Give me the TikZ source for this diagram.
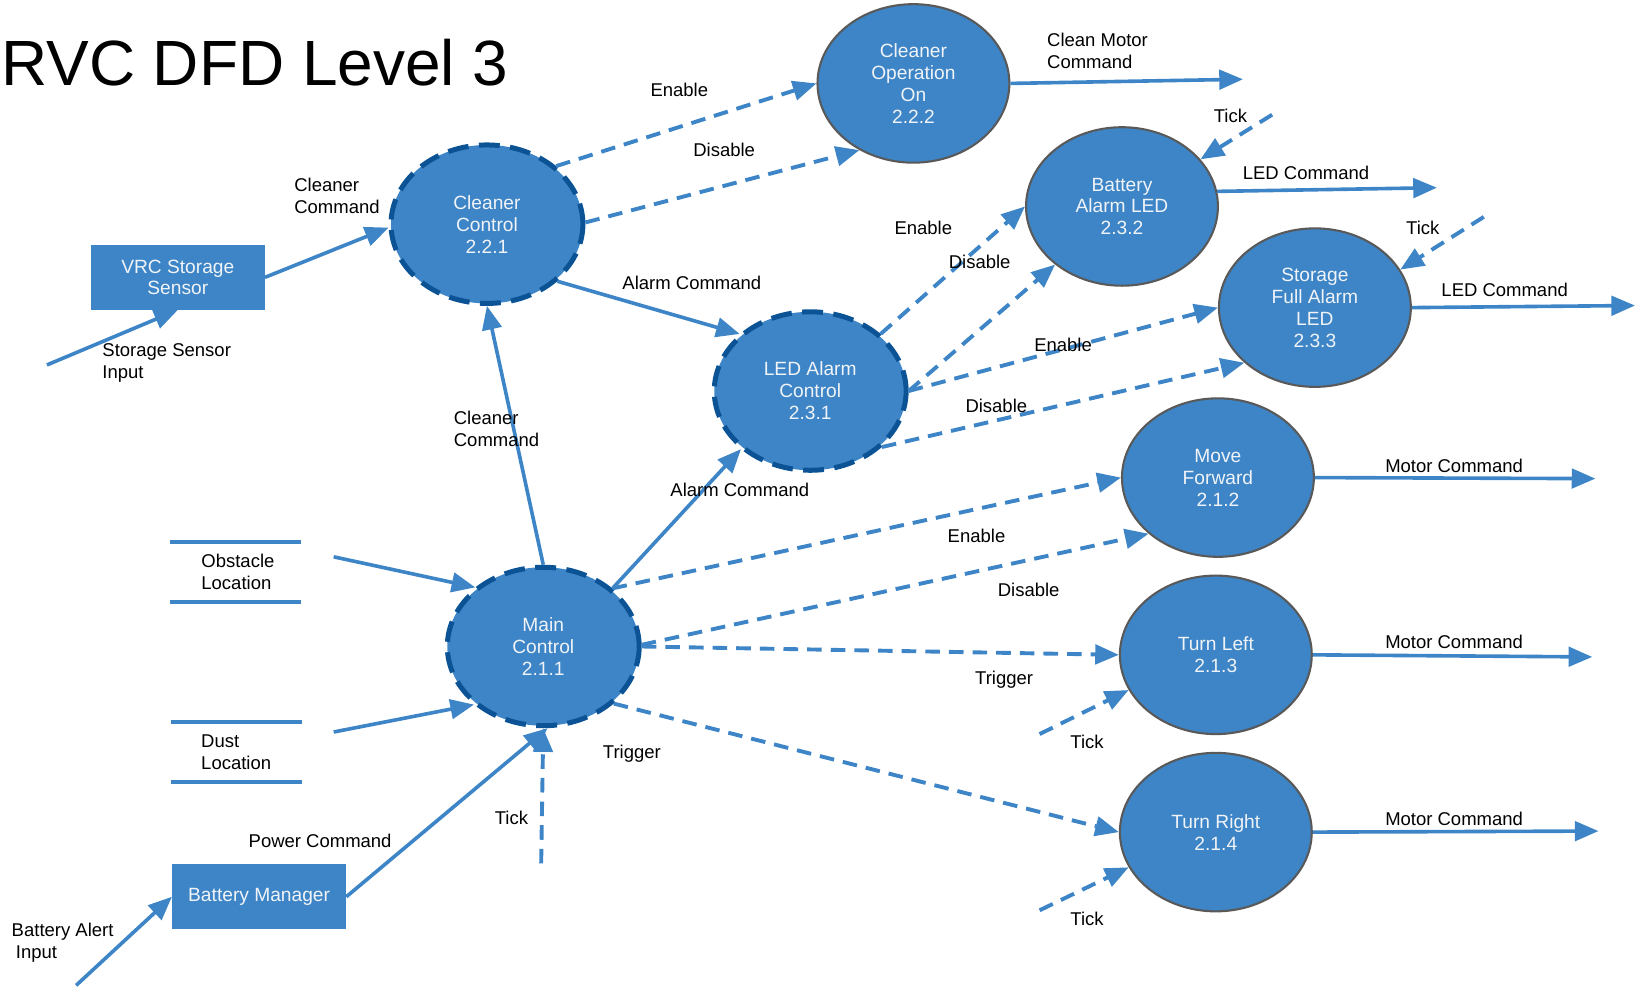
\documentclass[tikz,border=0pt]{standalone}
\usepackage{fontspec}
\setmainfont{Liberation Sans}
\usepackage{tikz}
\usetikzlibrary{positioning,shapes.geometric,arrows.meta}

\definecolor{dfdblue}{RGB}{61,133,198}
\definecolor{dfddark}{RGB}{11,83,148}
\definecolor{dfdgray}{RGB}{89,89,89}
\definecolor{dfdtext}{RGB}{240,243,247}
\newcommand\dfdfont{\fontsize{13.3}{15.75}\selectfont}
\newcommand\dfdnodefont{\fontsize{13.8}{15.75}\selectfont}

\begin{document}
\begin{tikzpicture}[x=0.75pt,y=0.75pt,yscale=-1,xscale=1,
  proc/.style={ellipse,fill=dfdblue,draw=dfdgray,line width=1.5pt,minimum width=138pt,minimum height=114pt,inner sep=0pt,text=dfdtext,align=center,font=\dfdnodefont},
  ctrlproc/.style={proc,draw=dfddark,line width=3.6pt,dash pattern=on 15pt off 7.5pt},
  ext/.style={rectangle,fill=dfdblue,minimum width=125pt,minimum height=46.5pt,inner sep=0pt,text=dfdtext,align=center,font=\dfdnodefont},
  store/.style={rectangle,minimum width=93.75pt,minimum height=42.75pt,inner sep=0pt,align=left,font=\dfdfont},
  storeline/.style={draw=dfdblue,line width=2.6pt},
  lbl/.style={inner sep=0pt,align=left,font=\dfdfont},
  dataflow/.style={draw=dfdblue,line width=2.6pt,-{Triangle[length=17pt,width=14pt]}},
  ctrlflow/.style={dataflow,line width=2.8pt,dash pattern=on 10.5pt off 6.5pt}
]
\useasboundingbox (0,0) rectangle (1568,948.5);

% Title
\draw (1,60) node (title) [anchor=west,inner sep=0pt,font=\fontsize{46}{50}\selectfont] {RVC DFD Level 3};

% Processes
\draw (467,215) node (cc) [ctrlproc] {Cleaner\\Control\\2.2.1};
\draw (876,80) node (coo) [proc] {Cleaner\\Operation\\On\\2.2.2};
\draw (1076,198) node (bal) [proc] {Battery\\Alarm LED\\2.3.2};
\draw (1261,295) node (sfa) [proc] {Storage\\Full Alarm\\LED\\2.3.3};
\draw (777,375) node (lac) [ctrlproc] {LED Alarm\\Control\\2.3.1};
\draw (521,620) node (mc) [ctrlproc] {Main\\Control\\2.1.1};
\draw (1168,458) node (mf) [proc] {Move\\Forward\\2.1.2};
\draw (1166,628) node (tl) [proc] {Turn Left\\2.1.3};
\draw (1166,798) node (tr) [proc] {Turn Right\\2.1.4};

% External entities
\draw (170.5,266) node (vrc) [ext] {VRC Storage\\Sensor};
\draw (248.5,860) node (bm) [ext] {Battery Manager};

% Data stores
\draw (225.5,548.5) node (obs) [store] {\hspace*{4pt}Obstacle\\\hspace*{4pt}Location};
\draw (226.5,721) node (dust) [store] {Dust\\Location};
\draw [storeline] (obs.north west) -- (obs.north east) (obs.south west) -- (obs.south east);
\draw [storeline] (dust.north west) -- (dust.north east) (dust.south west) -- (dust.south east);

% Free ends
\coordinate (ssin) at (45,350);
\coordinate (bain) at (73,945);
\coordinate (obsout) at (320,534);
\coordinate (dustout) at (320,702);
\coordinate (coomot) at (1192,76);
\coordinate (balled) at (1378,180);
\coordinate (sfaled) at (1568,293);
\coordinate (mfmot) at (1530,459);
\coordinate (tlmot) at (1527,630);
\coordinate (trmot) at (1533,797);
\coordinate (baltick) at (1220,110);
\coordinate (sfatick) at (1423,208);
\coordinate (mctick) at (519,828);
\coordinate (tltick) at (997,704);
\coordinate (trtick) at (997,873);

%Data Flows
\draw [dataflow] (ssin) -- (vrc.south);
\draw [dataflow] (vrc.east) -- (cc.182);
\draw [dataflow] (mc.north) -- (cc.south);
\draw [dataflow] (cc.321) -- (lac.141);
\draw [dataflow] (mc.40) -- (lac.220);
\draw [dataflow] (obsout) -- (mc.139);
\draw [dataflow] (dustout) -- (mc.220);
\draw [dataflow] (bm.east) -- (mc.273);
\draw [dataflow] (bain) -- (bm.west);
\draw [dataflow] (coo.east) -- (coomot);
\draw [dataflow] (bal.9) -- (balled);
\draw [dataflow] (sfa.east) -- (sfaled);
\draw [dataflow] (mf.east) -- (mfmot);
\draw [dataflow] (tl.east) -- (tlmot);
\draw [dataflow] (tr.east) -- (trmot);

%Control Flows
\draw [ctrlflow] (cc.40) -- (coo.west);
\draw [ctrlflow] (cc.1) -- (coo.231);
\draw [ctrlflow] (baltick) -- (bal.31);
\draw [ctrlflow] (sfatick) -- (sfa.24);
\draw [ctrlflow] (lac.39) -- (bal.west);
\draw [ctrlflow] (lac.east) -- (bal.221);
\draw [ctrlflow] (lac.east) -- (sfa.west);
\draw [ctrlflow] (lac.322) -- (sfa.218);
\draw [ctrlflow] (mc.40) -- (mf.west);
\draw [ctrlflow] (mc.1) -- (mf.219);
\draw [ctrlflow] (mc.east) -- (tl.west);
\draw [ctrlflow] (mc.321) -- (tr.west);
\draw [ctrlflow] (mctick) -- (mc.south);
\draw [ctrlflow] (tltick) -- (tl.202);
\draw [ctrlflow] (trtick) -- (tr.202);

% Text Node
\draw (98,348) node (tssin) [lbl,anchor=west] {Storage Sensor\\Input};
% Text Node
\draw (282,187.5) node (tvrccc) [lbl,anchor=west] {Cleaner\\Command};
% Text Node
\draw (435,411.5) node (tmccc) [lbl,anchor=west] {Cleaner\\Command};
% Text Node
\draw (663.5,271) node (tccac) [lbl] {Alarm Command};
% Text Node
\draw (709.5,470) node (tmcac) [lbl] {Alarm Command};
% Text Node
\draw (307,806) node (tbmpc) [lbl] {Power Command};
% Text Node
\draw (11,904.5) node (tbain) [lbl,anchor=west] {Battery Alert\\\hspace*{3pt}Input};
% Text Node
\draw (1004,48.5) node (tcoomot) [lbl,anchor=west] {Clean Motor\\Command};
% Text Node
\draw (1252.5,166) node (tballed) [lbl] {LED Command};
% Text Node
\draw (1443,278) node (tsfaled) [lbl] {LED Command};
% Text Node
\draw (1394.5,447) node (tmfmot) [lbl] {Motor Command};
% Text Node
\draw (1394.5,616) node (ttlmot) [lbl] {Motor Command};
% Text Node
\draw (1394.5,785) node (ttrmot) [lbl] {Motor Command};
% Text Node
\draw (651.5,86) node (tcoen) [lbl] {Enable};
% Text Node
\draw (694.5,144) node (tcodis) [lbl] {Disable};
% Text Node
\draw (1180,111) node (tbaltick) [lbl] {Tick};
% Text Node
\draw (1364.5,219) node (tsfatick) [lbl] {Tick};
% Text Node
\draw (885.5,219) node (tbalen) [lbl] {Enable};
% Text Node
\draw (939.5,251) node (tbaldis) [lbl] {Disable};
% Text Node
\draw (1019.5,331) node (tsfaen) [lbl] {Enable};
% Text Node
\draw (955.5,389) node (tsfadis) [lbl] {Disable};
% Text Node
\draw (936.5,514) node (tmfen) [lbl] {Enable};
% Text Node
\draw (986.5,566) node (tmfdis) [lbl] {Disable};
% Text Node
\draw (963,652) node (ttltrig) [lbl] {Trigger};
% Text Node
\draw (606,723) node (ttrtrig) [lbl] {Trigger};
% Text Node
\draw (490.5,784) node (tmctick) [lbl] {Tick};
% Text Node
\draw (1042.5,711) node (ttltick) [lbl] {Tick};
% Text Node
\draw (1042.5,881) node (ttrtick) [lbl] {Tick};

\end{tikzpicture}
\end{document}
